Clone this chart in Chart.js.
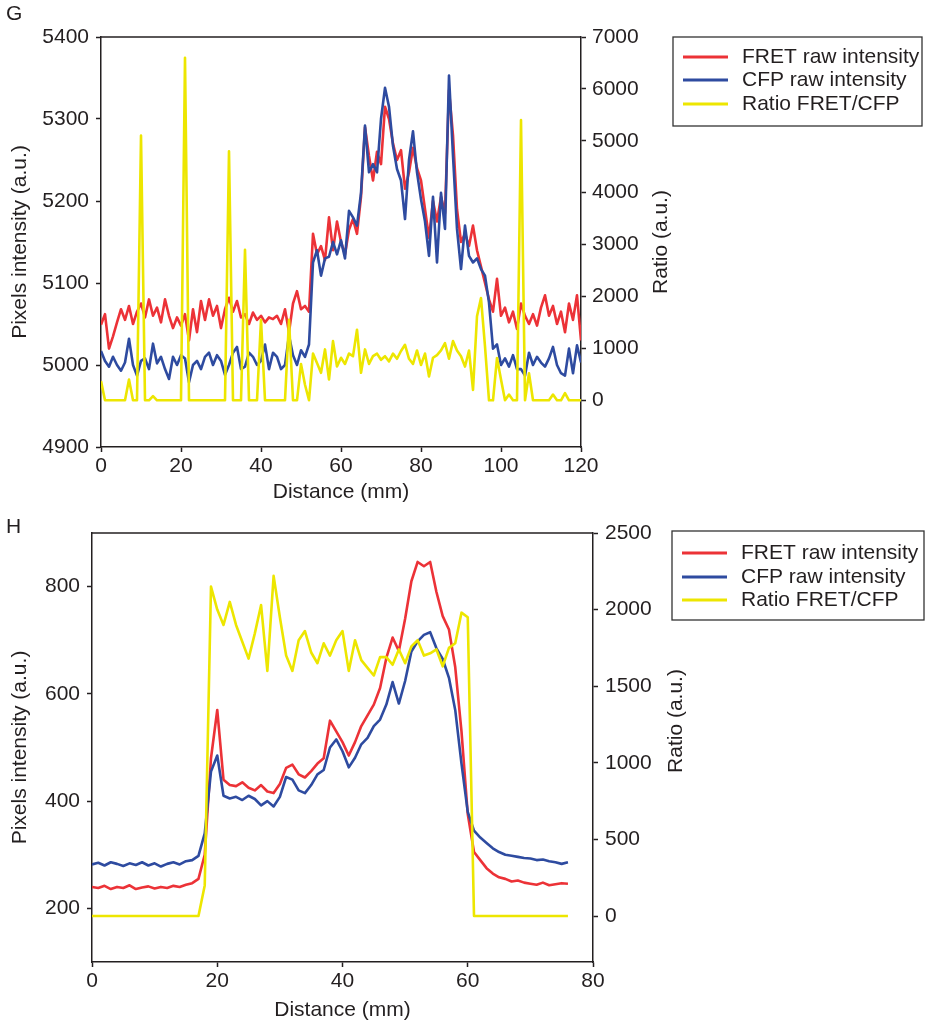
<!DOCTYPE html>
<html>
<head>
<meta charset="utf-8">
<script src="https://cdn.jsdelivr.net/npm/chart.js@4"></script>
<style>
body { margin: 0; background: #fff; }
#wrap { position: relative; width: 926px; height: 1023px; }
canvas { position: absolute; left: 0; }
#chartG { top: 0; }
#chartH { top: 510px; }
</style>
</head>
<body>
<div id="wrap">
<canvas id="chartG" width="926" height="510"></canvas>
<canvas id="chartH" width="926" height="513"></canvas>
</div>
<script>
// Panel G, sampled every 1 mm (0..120)
const distG = Array.from({ length: 121 }, (_, i) => i);
const fretG = [
    5049, 5062, 5020, 5035, 5052, 5068, 5055, 5072, 5050, 5065,
    5075, 5058, 5080, 5060, 5070, 5052, 5080, 5060, 5045, 5058,
    5048, 5062, 5030, 5068, 5040, 5078, 5055, 5080, 5060, 5072,
    5045, 5068, 5082, 5065, 5078, 5058, 5062, 5050, 5064, 5055,
    5060, 5052, 5058, 5056, 5060, 5050, 5068, 5040, 5075, 5090,
    5068, 5072, 5065, 5160, 5135, 5145, 5128, 5180, 5140, 5175,
    5150, 5135, 5165, 5178, 5160, 5205, 5290, 5255, 5225, 5260,
    5245, 5315, 5300, 5270, 5250, 5262, 5215, 5235, 5265, 5240,
    5225, 5190, 5155, 5200, 5175, 5205, 5185, 5335, 5280, 5190,
    5150, 5160, 5145, 5170, 5140, 5120, 5100, 5080, 5065, 5105,
    5060, 5070, 5052, 5065, 5044, 5075, 5060, 5050, 5062, 5048,
    5070, 5085, 5060, 5072, 5050, 5065, 5040, 5075, 5055, 5085,
    5030
];
const cfpG = [
    5017, 5005, 4998, 5010, 5000, 4993, 5003, 5032, 5000, 4987,
    5005, 5008, 4995, 5026, 5002, 5010, 4995, 4983, 5010, 5000,
    5012, 5008, 4979, 5000, 5005, 4995, 5010, 5015, 5000, 5012,
    5005, 4988, 5000, 5015, 5022, 4995, 4998, 5015, 5010, 5000,
    5005, 5025, 4995, 5015, 5010, 4995, 5000, 5036, 5012, 5000,
    5018, 5010, 5025, 5125, 5140, 5109, 5130, 5132, 5150, 5135,
    5152, 5130, 5188, 5180, 5170, 5210, 5292, 5235, 5245, 5235,
    5300, 5338, 5315, 5267, 5239, 5225, 5178, 5250, 5285, 5235,
    5202, 5175, 5133, 5205, 5125, 5210, 5166, 5353, 5255, 5166,
    5117, 5170, 5133, 5125, 5130, 5117, 5109, 5076, 5020, 5025,
    5000, 5008, 4998, 5012, 4995, 4995, 4987, 5015, 5000, 5010,
    5003, 4998, 5008, 5022, 5000, 4990, 4987, 5020, 4990, 5024,
    5003
];
const ratioG = [
    370, 0, 0, 0, 0, 0, 0, 400, 0, 0,
    5100, 0, 0, 80, 0, 0, 0, 0, 0, 0,
    0, 6600, 0, 0, 0, 0, 0, 0, 0, 0,
    0, 0, 4800, 0, 0, 0, 2900, 0, 0, 0,
    1550, 0, 0, 0, 0, 0, 0, 1550, 0, 0,
    700, 300, 0, 900, 720, 530, 980, 400, 1140, 650,
    820, 700, 900, 850, 1360, 530, 980, 700, 850, 900,
    780, 850, 750, 900, 800, 950, 1070, 800, 700, 960,
    680, 900, 460, 820, 870, 960, 1100, 800, 1140, 960,
    850, 650, 960, 200, 1620, 1970, 1040, 0, 0, 815,
    400, 0, 110, 0, 0, 5400, 0, 520, 0, 0,
    0, 0, 0, 110, 0, 0, 140, 0, 0, 0,
    0
];
const ticksXG = [0, 20, 40, 60, 80, 100, 120];
const ticksLeftG = [4900, 5000, 5100, 5200, 5300, 5400];
const ticksRightG = [0, 1000, 2000, 3000, 4000, 5000, 6000, 7000];

// Panel H, sampled every 1 mm (0..76)
const distH = Array.from({ length: 77 }, (_, i) => i);
const fretH = [
    240, 238, 242, 236, 240, 238, 243, 236, 239, 241,
    237, 240, 238, 242, 240, 244, 247, 255, 300, 480,
    570, 440, 430, 428, 435, 425, 420, 430, 418, 415,
    432, 462, 468, 450, 444, 456, 470, 480, 550, 530,
    510, 485, 510, 540, 560, 580, 611, 667, 705, 680,
    740, 810, 846, 838, 846, 790, 745, 720, 650, 530,
    376, 305, 290, 275, 265, 258, 255, 250, 252, 248,
    246, 244, 248, 243, 245, 247, 246
];
const cfpH = [
    282, 285, 280, 286, 283, 279, 284, 281, 286, 280,
    284, 278, 283, 286, 282, 288, 290, 298, 340, 455,
    485, 410, 405, 408, 402, 410, 404, 392, 400, 390,
    408, 445, 440, 420, 415, 430, 450, 458, 500, 515,
    493, 463, 481, 506, 518, 540, 552, 580, 622, 582,
    624, 679, 698, 710, 715, 685, 665, 630, 570, 470,
    380, 345, 332, 322, 312, 305, 300, 298, 296, 294,
    293, 290, 291, 288, 286, 283, 286
];
const ratioH = [
    0, 0, 0, 0, 0, 0, 0, 0, 0, 0,
    0, 0, 0, 0, 0, 0, 0, 0, 200, 2150,
    2000, 1900, 2050, 1900, 1790, 1680, 1845, 2030, 1600, 2220,
    1950, 1700, 1600, 1800, 1860, 1720, 1650, 1780, 1700, 1800,
    1860, 1600, 1800, 1670, 1620, 1570, 1690, 1690, 1640, 1740,
    1650, 1760, 1800, 1700, 1715, 1740, 1630, 1750, 1780, 1980,
    1950, 0, 0, 0, 0, 0, 0, 0, 0, 0,
    0, 0, 0, 0, 0, 0, 0
];
const ticksXH = [0, 20, 40, 60, 80];
const ticksLeftH = [200, 400, 600, 800];
const ticksRightH = [0, 500, 1000, 1500, 2000, 2500];

const seriesLabels = ['FRET raw intensity', 'CFP raw intensity', 'Ratio FRET/CFP'];
const seriesColors = ['#ec3237', '#2e4ba0', '#ede600'];

const fontFamily = '"Liberation Sans", Arial, Helvetica, sans-serif';
const textColor = '#231f20';
const axisColor = '#231f20';

Chart.defaults.font.family = fontFamily;
Chart.defaults.font.size = 21;
Chart.defaults.color = textColor;

function toPoints(xs, ys) {
    return ys.map((v, i) => ({ x: xs[i], y: v }));
}

function lineSet(label, color, xs, ys, axis, order) {
    return {
        label: label,
        data: toPoints(xs, ys),
        yAxisID: axis,
        borderColor: color,
        borderWidth: 2.6,
        pointRadius: 0,
        tension: 0,
        borderJoinStyle: 'round',
        order: order
    };
}

function gridOpts() {
    return {
        drawOnChartArea: false,
        drawTicks: true,
        tickLength: 5,
        tickColor: axisColor,
        tickWidth: 1.5
    };
}

// replace the generated ticks with the ones printed on the figure
function useTicks(values) {
    return function(scale) {
        scale.ticks = values.map(v => ({ value: v }));
    };
}

const plainLabel = v => String(v);

// frame top line, panel letter, rotated right title and boxed legend
function decorPlugin(p) {
    return {
        id: 'decor' + p.letter,
        afterDraw(chart) {
            const ctx = chart.ctx;
            const a = chart.chartArea;
            ctx.save();
            ctx.strokeStyle = axisColor;
            ctx.lineWidth = 1.5;
            ctx.beginPath();
            ctx.moveTo(a.left, a.top);
            ctx.lineTo(a.right, a.top);
            ctx.stroke();

            ctx.fillStyle = textColor;
            ctx.font = '21px ' + fontFamily;
            ctx.textAlign = 'left';
            ctx.textBaseline = 'middle';
            ctx.fillText(p.letter, 6, p.letterY);

            ctx.save();
            ctx.translate(p.ratioX, p.ratioY);
            ctx.rotate(-Math.PI / 2);
            ctx.textAlign = 'center';
            ctx.fillText('Ratio (a.u.)', 0, 0);
            ctx.restore();

            ctx.lineWidth = 1.3;
            ctx.strokeStyle = '#333';
            ctx.strokeRect(p.box[0], p.box[1], p.box[2], p.box[3]);
            chart.data.datasets.forEach((ds, i) => {
                const y = p.rows[i];
                ctx.strokeStyle = ds.borderColor;
                ctx.lineWidth = 3;
                ctx.beginPath();
                ctx.moveTo(p.box[0] + 10, y);
                ctx.lineTo(p.box[0] + 55, y);
                ctx.stroke();
                ctx.fillStyle = textColor;
                ctx.fillText(ds.label, p.box[0] + 69, y);
            });
            ctx.restore();
        }
    };
}

function makeChart(id, p) {
    const ctx = document.getElementById(id).getContext('2d');
    return new Chart(ctx, {
        type: 'line',
        data: {
            datasets: [
                lineSet(seriesLabels[0], seriesColors[0], p.dist, p.fret, 'y', 2),
                lineSet(seriesLabels[1], seriesColors[1], p.dist, p.cfp, 'y', 1),
                lineSet(seriesLabels[2], seriesColors[2], p.dist, p.ratio, 'y1', 0)
            ]
        },
        options: {
            responsive: false,
            animation: false,
            layout: { padding: { left: 0, right: p.padRight, top: p.padTop, bottom: 0 } },
            plugins: { legend: { display: false }, tooltip: { enabled: false } },
            scales: {
                x: {
                    type: 'linear',
                    min: 0,
                    max: p.xMax,
                    grid: gridOpts(),
                    border: { color: axisColor, width: 1.5 },
                    ticks: { padding: 2, maxRotation: 0, autoSkip: false, callback: plainLabel },
                    afterBuildTicks: useTicks(p.xTicks),
                    title: { display: true, text: 'Distance (mm)', padding: { top: 0, bottom: p.xTitlePad } },
                    afterFit: s => { s.height = p.xHeight; }
                },
                y: {
                    position: 'left',
                    min: p.yMin,
                    max: p.yMax,
                    grid: gridOpts(),
                    border: { color: axisColor, width: 1.5 },
                    ticks: { padding: 7, autoSkip: false, callback: plainLabel },
                    afterBuildTicks: useTicks(p.yTicks),
                    title: { display: true, text: 'Pixels intensity (a.u.)', padding: { top: 8, bottom: 0 } },
                    afterFit: s => { s.width = p.leftWidth; }
                },
                y1: {
                    position: 'right',
                    min: p.rMin,
                    max: p.rMax,
                    grid: gridOpts(),
                    border: { color: axisColor, width: 1.5 },
                    ticks: { padding: p.rPad, autoSkip: false, callback: plainLabel },
                    afterBuildTicks: useTicks(p.rTicks),
                    afterFit: s => { s.width = 95; }
                }
            }
        },
        plugins: [decorPlugin(p)]
    });
}

makeChart('chartG', {
    letter: 'G', letterY: 14,
    dist: distG, fret: fretG, cfp: cfpG, ratio: ratioG,
    xMax: 120, xTicks: ticksXG,
    yMin: 4900, yMax: 5400, yTicks: ticksLeftG,
    rMin: -900, rMax: 7000, rTicks: ticksRightG, rPad: 6,
    padTop: 37, padRight: 250, leftWidth: 101, xHeight: 63, xTitlePad: 5,
    ratioX: 661, ratioY: 242,
    box: [673, 37, 249, 89], rows: [57, 80, 104]
});

makeChart('chartH', {
    letter: 'H', letterY: 17,
    dist: distH, fret: fretH, cfp: cfpH, ratio: ratioH,
    xMax: 80, xTicks: ticksXH,
    yMin: 100, yMax: 900, yTicks: ticksLeftH,
    rMin: -300, rMax: 2500, rTicks: ticksRightH, rPad: 7,
    padTop: 23, padRight: 238, leftWidth: 92, xHeight: 61, xTitlePad: 0,
    ratioX: 676, ratioY: 211,
    box: [672, 21, 252, 89], rows: [43, 67, 90]
});
</script>
</body>
</html>
